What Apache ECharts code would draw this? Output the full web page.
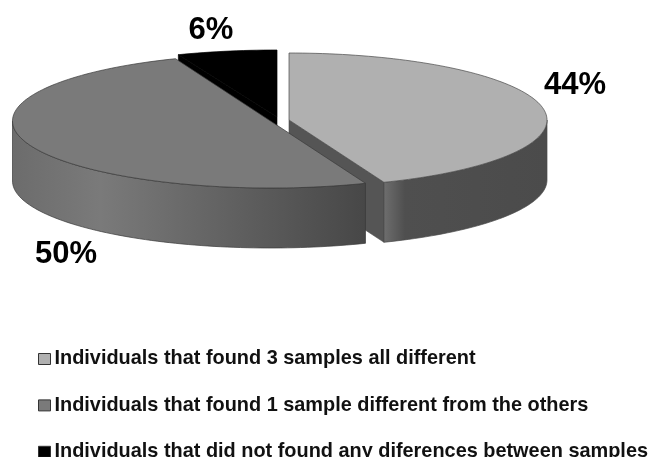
<!DOCTYPE html>
<html>
<head>
<meta charset="utf-8">
<style>html,body{margin:0;padding:0;background:#fff}#chart{width:649px;height:457px}</style>
<script src="https://cdn.jsdelivr.net/npm/echarts@6/dist/echarts.min.js"></script>
</head>
<body>
<div id="chart"></div>
<script>
// Survey outcome categories and their shares in percent
const categories = [
  'Individuals that found 3 samples all different',
  'Individuals that found 1 sample different from the others',
  'Individuals that did not found any diferences between samples'
];
const sharePercent = [44, 50, 6];

// Appearance of each slice: pulled-out centre, radius, colours, label anchor
const sliceStyles = [
  { cx: 289, cy: 120, rx: 258, top: '#b0b0b0', legend: '#b0b0b0', cut: '#555555', stroke: '#4a4a4a', z: 2, labelX: 575, labelY: 85,
    wall: [{ offset: 0, color: '#6e6e6e' }, { offset: 0.13, color: '#4f4f4f' }, { offset: 1, color: '#4b4b4b' }] },
  { cx: 270.5, cy: 121, rx: 258, top: '#7a7a7a', legend: '#7a7a7a', cut: '#555555', stroke: '#3a3a3a', z: 3, labelX: 66, labelY: 254,
    wall: [{ offset: 0, color: '#6c6c6c' }, { offset: 0.25, color: '#7a7a7a' }, { offset: 0.6, color: '#626262' }, { offset: 1, color: '#474747' }] },
  { cx: 277, cy: 117, rx: 268, top: '#000000', legend: '#000000', cut: '#000000', stroke: '#000000', z: 1, labelX: 211, labelY: 30,
    wall: [{ offset: 0, color: '#000000' }, { offset: 1, color: '#000000' }] }
];
const radiusY = 67;
const depth = 60;
const total = sharePercent.reduce((a, b) => a + b, 0);

// Point on a tilted rim; the angle runs clockwise from twelve o'clock
function rim(s, deg, drop) {
  const t = deg * Math.PI / 180;
  return [s.cx + s.rx * Math.sin(t), s.cy - radiusY * Math.cos(t) + (drop || 0)];
}

function arc(s, from, to, drop) {
  const pts = [];
  const steps = Math.max(2, Math.ceil(Math.abs(to - from) / 1.5));
  for (let i = 0; i <= steps; i++) pts.push(rim(s, from + (to - from) * i / steps, drop));
  return pts;
}

function makeRenderItem(index) {
  const before = sharePercent.slice(0, index).reduce((a, b) => a + b, 0);
  const start = before / total * 360;
  const end = (before + sharePercent[index]) / total * 360;
  const s = sliceStyles[index];
  return function () {
    const children = [];
    const apex = [s.cx, s.cy];
    const apexLow = [s.cx, s.cy + depth];
    // Cut faces, drawn only when they look toward the viewer
    [[end, end > 0 && end < 180], [start, start > 180 && start < 360]].forEach(([deg, visible]) => {
      if (!visible) return;
      children.push({
        type: 'polygon',
        shape: { points: [apex, rim(s, deg), rim(s, deg, depth), apexLow] },
        style: { fill: s.cut, stroke: s.stroke, lineWidth: 0.6 }
      });
    });
    // Outer wall over the front half of the rim, shaded left to right
    const a = Math.max(start, 90);
    const b = Math.min(end, 270);
    if (b > a) {
      const pts = arc(s, a, b, 0).concat(arc(s, b, a, depth));
      children.push({
        type: 'polygon',
        shape: { points: pts },
        style: {
          fill: new echarts.graphic.LinearGradient(0, 0, 1, 0, s.wall),
          stroke: s.stroke, lineWidth: 0.7
        }
      });
    }
    // Top surface
    children.push({
      type: 'polygon',
      shape: { points: [apex].concat(arc(s, start, end, 0)) },
      style: { fill: s.top, stroke: s.stroke, lineWidth: 0.7 }
    });
    // Percentage label
    children.push({
      type: 'text',
      style: {
        x: s.labelX, y: s.labelY, text: sharePercent[index] + '%',
        align: 'center', verticalAlign: 'middle',
        font: 'bold 31px "Liberation Sans", Arial, sans-serif', fill: '#000'
      }
    });
    return { type: 'group', children: children };
  };
}

const chart = echarts.init(document.getElementById('chart'), null, { renderer: 'canvas' });
chart.setOption({
  animation: false,
  backgroundColor: '#ffffff',
  legend: {
    data: categories,
    orient: 'vertical',
    left: 33,
    top: 344,
    height: 113,
    width: 616,
    itemWidth: 12,
    itemHeight: 11,
    itemGap: 26.4,
    selectedMode: false,
    icon: 'rect',
    itemStyle: { borderColor: '#333333', borderWidth: 1 },
    textStyle: {
      fontFamily: '"Liberation Sans", Arial, sans-serif',
      fontWeight: 'bold', fontSize: 19.9, color: '#111111',
      padding: [0, 0, 0, -1]
    }
  },
  series: categories.map((name, i) => ({
    type: 'custom',
    name: name,
    coordinateSystem: 'none',
    z: sliceStyles[i].z,
    silent: true,
    itemStyle: { color: sliceStyles[i].legend },
    data: [{ name: name, value: sharePercent[i] }],
    renderItem: makeRenderItem(i)
  }))
});
</script>
</body>
</html>
